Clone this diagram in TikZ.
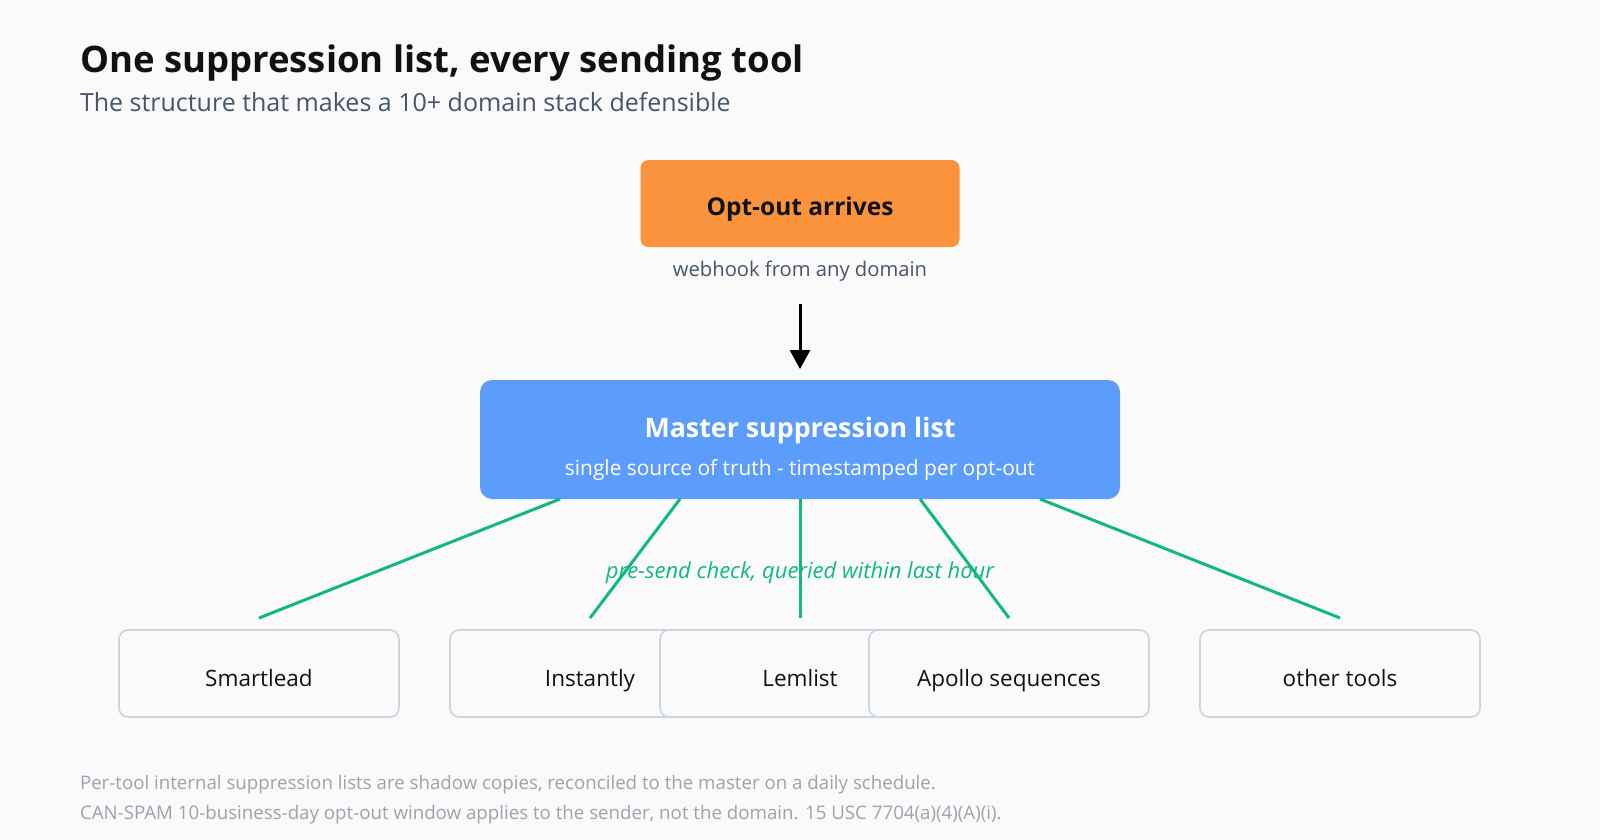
\documentclass[tikz,border=0pt]{standalone}
\usepackage{fontspec}
\setmainfont{Open Sans}
\usetikzlibrary{arrows.meta, positioning, calc}

\definecolor{pagebg}{HTML}{FAFAFA}
\definecolor{inkdark}{HTML}{111111}
\definecolor{inkslate}{HTML}{475569}
\definecolor{inkfaint}{HTML}{9CA3AF}
\definecolor{optorange}{HTML}{FB933C}
\definecolor{masterblue}{HTML}{5C9CFB}
\definecolor{checkgreen}{HTML}{10B981}
\definecolor{toolline}{HTML}{CBD5E1}

\begin{document}
\begin{tikzpicture}[x=1pt, y=-1pt, every node/.style={inner sep=0pt, outer sep=0pt},
  toolbox/.style={draw=toolline, line width=1.6pt, fill=pagebg, rounded corners=9pt,
    minimum width=280pt, minimum height=87pt, text height=26pt, text depth=1pt,
    font=\fontsize{22.5}{26}\selectfont, text=inkdark},
  feed/.style={draw=checkgreen, line width=3pt}]
    % Page
    \fill[pagebg] (0,0) rectangle (1600,840);

    % Heading
    \node[anchor=base west, text=inkdark, font=\fontsize{36.5}{42}\bfseries\selectfont] (title) at (80,73) {One suppression list, every sending tool};
    \node[anchor=base west, text=inkslate, font=\fontsize{25}{30}\selectfont] (subtitle) at (80,112) {The structure that makes a 10+ domain stack defensible};

    % Opt-out box
    \node[fill=optorange, rounded corners=8pt, minimum width=319pt, minimum height=87pt] (optout) at (800,203.5) {};
    \node[anchor=base, text=inkdark, font=\fontsize{24.5}{28}\bfseries\selectfont] (optname) at (800,215) {Opt-out arrives};
    \node[anchor=base, text=inkslate, font=\fontsize{20.2}{24}\selectfont] (hook) at (800,276) {webhook from any domain};
    \coordinate (drop) at (800,304);

    % Master list
    \node[fill=masterblue, rounded corners=12pt, minimum width=640pt, minimum height=119pt] (master) at (800,439.5) {};
    \node[anchor=base, text=white, font=\fontsize{26.8}{32}\bfseries\selectfont] (mastername) at (800,437) {Master suppression list};
    \node[anchor=base, text=white, font=\fontsize{20.9}{24}\selectfont] (masternote) at (800,475) {single source of truth - timestamped per opt-out};
    \draw[line width=3pt, -{Triangle[length=19pt, width=20pt]}] (drop) -- ([yshift=11pt]master.north);

    % Sending tools
    \node[toolbox] (smartlead) at (259,673.5) {Smartlead};
    \node[toolbox] (instantly) at (590,673.5) {Instantly};
    \node[toolbox] (lemlist) at (800,673.5) {Lemlist};
    \node[toolbox] (apollo) at (1009,673.5) {Apollo sequences};
    \node[toolbox] (others) at (1340,673.5) {other tools};

    % Pre-send checks
    \node[anchor=base, text=checkgreen, font=\fontsize{22}{26}\itshape\selectfont] (check) at (800,578) {pre-send check, queried within last hour};
    \draw[feed] ($(master.south west)!0.125!(master.south east)$) -- ([yshift=12pt]smartlead.north);
    \draw[feed] ($(master.south west)!0.3125!(master.south east)$) -- ([yshift=12pt]instantly.north);
    \draw[feed] (master.south) -- ([yshift=12pt]lemlist.north);
    \draw[feed] ($(master.south west)!0.6875!(master.south east)$) -- ([yshift=12pt]apollo.north);
    \draw[feed] ($(master.south west)!0.875!(master.south east)$) -- ([yshift=12pt]others.north);

    % Notes
    \node[anchor=base west, text=inkfaint, font=\fontsize{18.7}{22}\selectfont] (note1) at (80,789) {Per-tool internal suppression lists are shadow copies, reconciled to the master on a daily schedule.};
    \node[anchor=base west, text=inkfaint, font=\fontsize{18.7}{22}\selectfont] (note2) at (80,819) {CAN-SPAM 10-business-day opt-out window applies to the sender, not the domain. 15 USC 7704(a)(4)(A)(i).};
\end{tikzpicture}
\end{document}
